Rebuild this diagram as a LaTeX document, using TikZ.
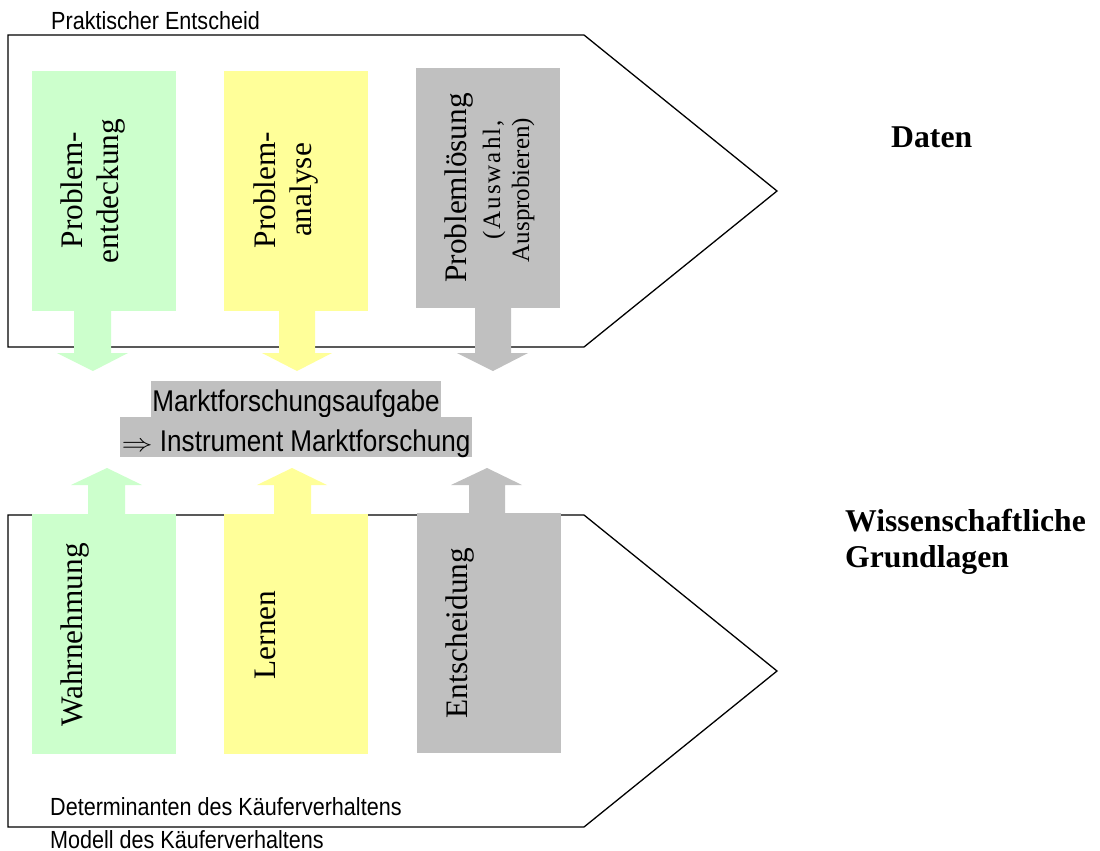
\documentclass[tikz,border=0pt]{standalone}
\usepackage{fontspec}
\setmainfont{Liberation Serif}
\newfontfamily\arialf[FakeStretch=0.87]{Liberation Sans}
\definecolor{gfill}{HTML}{CCFFCC}
\definecolor{yfill}{HTML}{FFFF99}
\definecolor{sfill}{HTML}{C0C0C0}
\tikzset{
  outline/.style={draw=black, line width=1.3pt, line join=miter},
  colbox/.style={rectangle, inner sep=0pt, outer sep=0pt, minimum width=144pt, minimum height=240pt},
  vt/.style={rotate=90, anchor=base, inner sep=0pt, font=\fontsize{31.3}{36}\selectfont},
  vts/.style={rotate=90, anchor=base, inner sep=0pt, font=\fontsize{25}{29}\selectfont},
  sans/.style={anchor=base west, inner sep=0pt, font=\arialf\fontsize{24.8}{28}\selectfont},
  hl/.style={fill=sfill, inner sep=0pt, font=\arialf\fontsize{30}{34}\selectfont},
  bold/.style={anchor=base west, inner sep=0pt, font=\bfseries\fontsize{31.7}{36}\selectfont}
}
\begin{document}
\begin{tikzpicture}[x=1pt, y=-1pt]
\useasboundingbox (0,0) rectangle (1100,851);
\fill[white] (0,0) rectangle (1100,851);

% pentagon outlines
\draw[outline] (8,35) -- (584,35) -- (777,191) -- (584,347) -- (8,347) -- cycle;
\draw[outline] (8,515) -- (584,515) -- (777,671) -- (584,827) -- (8,827) -- cycle;

% upper column boxes
\node[colbox, fill=gfill] (g1) at (104,191) {};
\node[colbox, fill=yfill] (y1) at (296,191) {};
\node[colbox, fill=sfill] (s1) at (488,188) {};

% downward arrows
\fill[gfill] (74,311) -- (111,311) -- (111,353) -- (128,353) -- (93,371) -- (57,353) -- (74,353) -- cycle;
\fill[yfill] (279,311) -- (315,311) -- (315,353) -- (332,353) -- (297,371) -- (262,353) -- (279,353) -- cycle;
\fill[sfill] (475,308) -- (511,308) -- (511,353) -- (528,353) -- (493,371) -- (457,353) -- (475,353) -- cycle;

% lower column boxes
\node[colbox, fill=gfill] (g2) at (104,634) {};
\node[colbox, fill=yfill] (y2) at (296,634) {};
\node[colbox, fill=sfill] (s2) at (489,633) {};

% upward arrows
\fill[gfill] (88,514) -- (125,514) -- (125,485) -- (142,485) -- (107,468) -- (71,485) -- (88,485) -- cycle;
\fill[yfill] (274,514) -- (311,514) -- (311,485) -- (327,485) -- (292,468) -- (257,485) -- (274,485) -- cycle;
\fill[sfill] (469,513) -- (505,513) -- (505,485) -- (522,485) -- (487,468) -- (451,485) -- (469,485) -- cycle;

% vertical texts, upper
\node[vt] (t1a) at (82,190) {Problem-};
\node[vt] (t1b) at (118,191) {entdeckung};
\node[vt] (t2a) at (275,190) {Problem-};
\node[vt] (t2b) at (311,190) {analyse};
\node[vt] (t3a) at (466,188) {Problemlösung};
\node[vts] (t3b) at (500,180) {\addfontfeature{LetterSpace=8}(Auswahl,};
\node[vts] (t3c) at (529,190) {Ausprobieren)};

% vertical texts, lower
\node[vt] (u1) at (82,635) {Wahrnehmung};
\node[vt] (u2) at (275,635) {Lernen};
\node[vt] (u3) at (467,633) {Entscheidung};

% central task
\node[hl, minimum width=290pt, minimum height=36pt, text height=27pt, text depth=2pt] (m1) at (296,399) {Marktforschungsaufgabe};
\node[hl, minimum width=352pt, minimum height=40pt, text height=30pt, text depth=2pt] (m2) at (296,437) {\scalebox{1.25}[1]{$\Rightarrow$} Instrument Marktforschung};

% labels
\node[sans] (lp) at (51,30) {Praktischer Entscheid};
\node[sans] (ld) at (50,815) {Determinanten des Käuferverhaltens};
\node[sans] (lm) at (50,848) {Modell des Käuferverhaltens};

\node[bold] (daten) at (891,147) {Daten};
\node[bold] (wg1) at (845,531) {\addfontfeature{Ligatures=NoCommon}Wissenschaftliche};
\node[bold] (wg2) at (845,567) {Grundlagen};
\end{tikzpicture}
\end{document}
